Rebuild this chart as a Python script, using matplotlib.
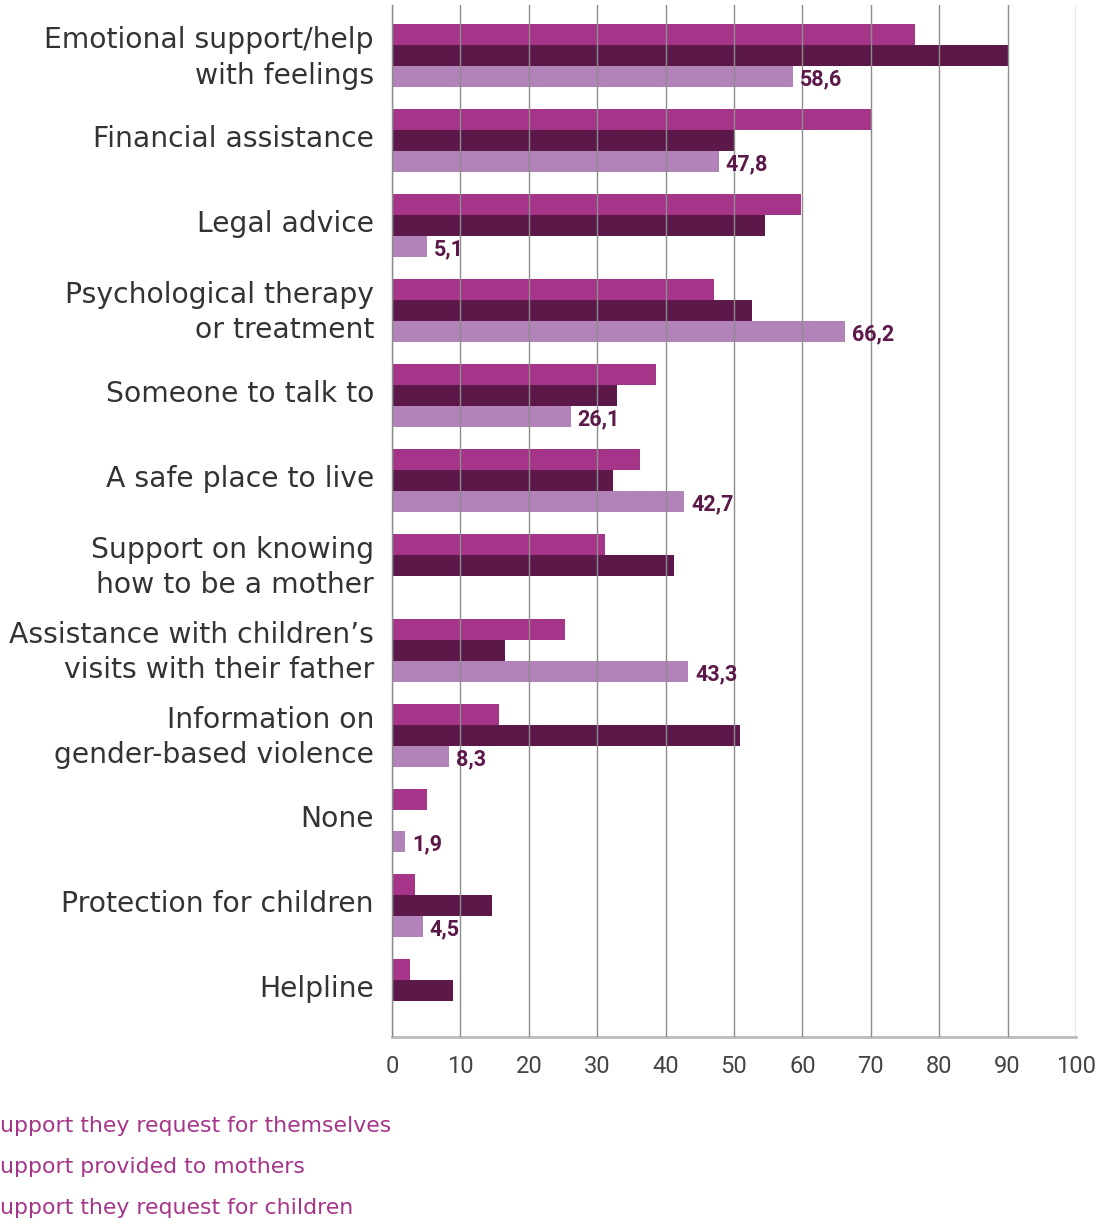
import matplotlib
matplotlib.use("Agg")
import matplotlib.pyplot as plt
import matplotlib.transforms as mtransforms
import numpy as np

categories = [
    "Emotional support/help\nwith feelings",
    "Financial assistance",
    "Legal advice",
    "Psychological therapy\nor treatment",
    "Someone to talk to",
    "A safe place to live",
    "Support on knowing\nhow to be a mother",
    "Assistance with children\u2019s\nvisits with their father",
    "Information on\ngender-based violence",
    "None",
    "Protection for children",
    "Helpline",
]
themselves = [76.5, 70.0, 59.8, 47.1, 38.6, 36.3, 31.1, 25.3, 15.6, 5.1, 3.4, 2.6]
mothers = [90.0, 50.1, 54.5, 52.6, 32.9, 32.3, 41.2, 16.5, 50.9, 0.0, 14.6, 8.9]
children = [58.6, 47.8, 5.1, 66.2, 26.1, 42.7, None, 43.3, 8.3, 1.9, 4.5, None]
series_names = [
    "Support they request for themselves",
    "Support provided to mothers",
    "Support they request for children",
]
xticks = [0, 10, 20, 30, 40, 50, 60, 70, 80, 90, 100]

c_pink = "#A6358A"
c_dark = "#5B1848"
c_light = "#B283B8"

fig = plt.figure(figsize=(11.13, 12.2), dpi=100)
ax = fig.add_axes([392 / 1113, 1 - 1037 / 1220, 684 / 1113, 1032 / 1220])

y = np.arange(len(categories))
h = 0.247
ax.barh(y - h, themselves, height=h, color=c_pink, zorder=2)
ax.barh(y, mothers, height=h, color=c_dark, zorder=2)
cy = [yy for yy, v in zip(y, children) if v is not None]
cv = [v for v in children if v is not None]
ax.barh(np.array(cy) + h, cv, height=h, color=c_light, zorder=2)

for yy, v in zip(cy, cv):
    ax.annotate(f"{v:.1f}".replace(".", ","), xy=(v, yy + h), xytext=(5, -2),
                textcoords="offset points", ha="left", va="center",
                fontsize=15.5, fontweight="bold", color=c_dark,
                family=["Roboto", "DejaVu Sans"])

ax.set_xlim(0, 100)
ax.set_ylim(11.55, -0.6)
ax.set_xticks(xticks)
ax.set_xticklabels([str(t) for t in xticks], fontsize=17, color="#444444",
                   family=["Roboto", "DejaVu Sans"])
ax.tick_params(axis="x", length=0, pad=13)
ax.set_yticks(y)
ax.set_yticklabels(categories, fontsize=20.3, color="#333333",
                   family=["DejaVu Sans"], linespacing=1.32)
ax.tick_params(axis="y", length=0, pad=13)
shift = mtransforms.ScaledTranslation(0, 0.045, fig.dpi_scale_trans)
for lbl in ax.get_yticklabels():
    lbl.set_transform(lbl.get_transform() + shift)

ax.xaxis.grid(True, color="#8c8c8c", linewidth=1, zorder=3)
ax.set_axisbelow(False)
for s in ["top", "right"]:
    ax.spines[s].set_visible(False)
ax.spines["left"].set_color("#8c8c8c")
ax.spines["left"].set_linewidth(1)
ax.spines["bottom"].set_color("#bbbbbb")
ax.spines["bottom"].set_linewidth(2)

for i, name in enumerate(series_names):
    fig.text(-14 / 1113, 1 - (1126 + i * 41) / 1220, name, ha="left", va="center",
             fontsize=15.8, color=c_pink, family=["DejaVu Sans"])

fig.savefig("out.png", dpi=100)
